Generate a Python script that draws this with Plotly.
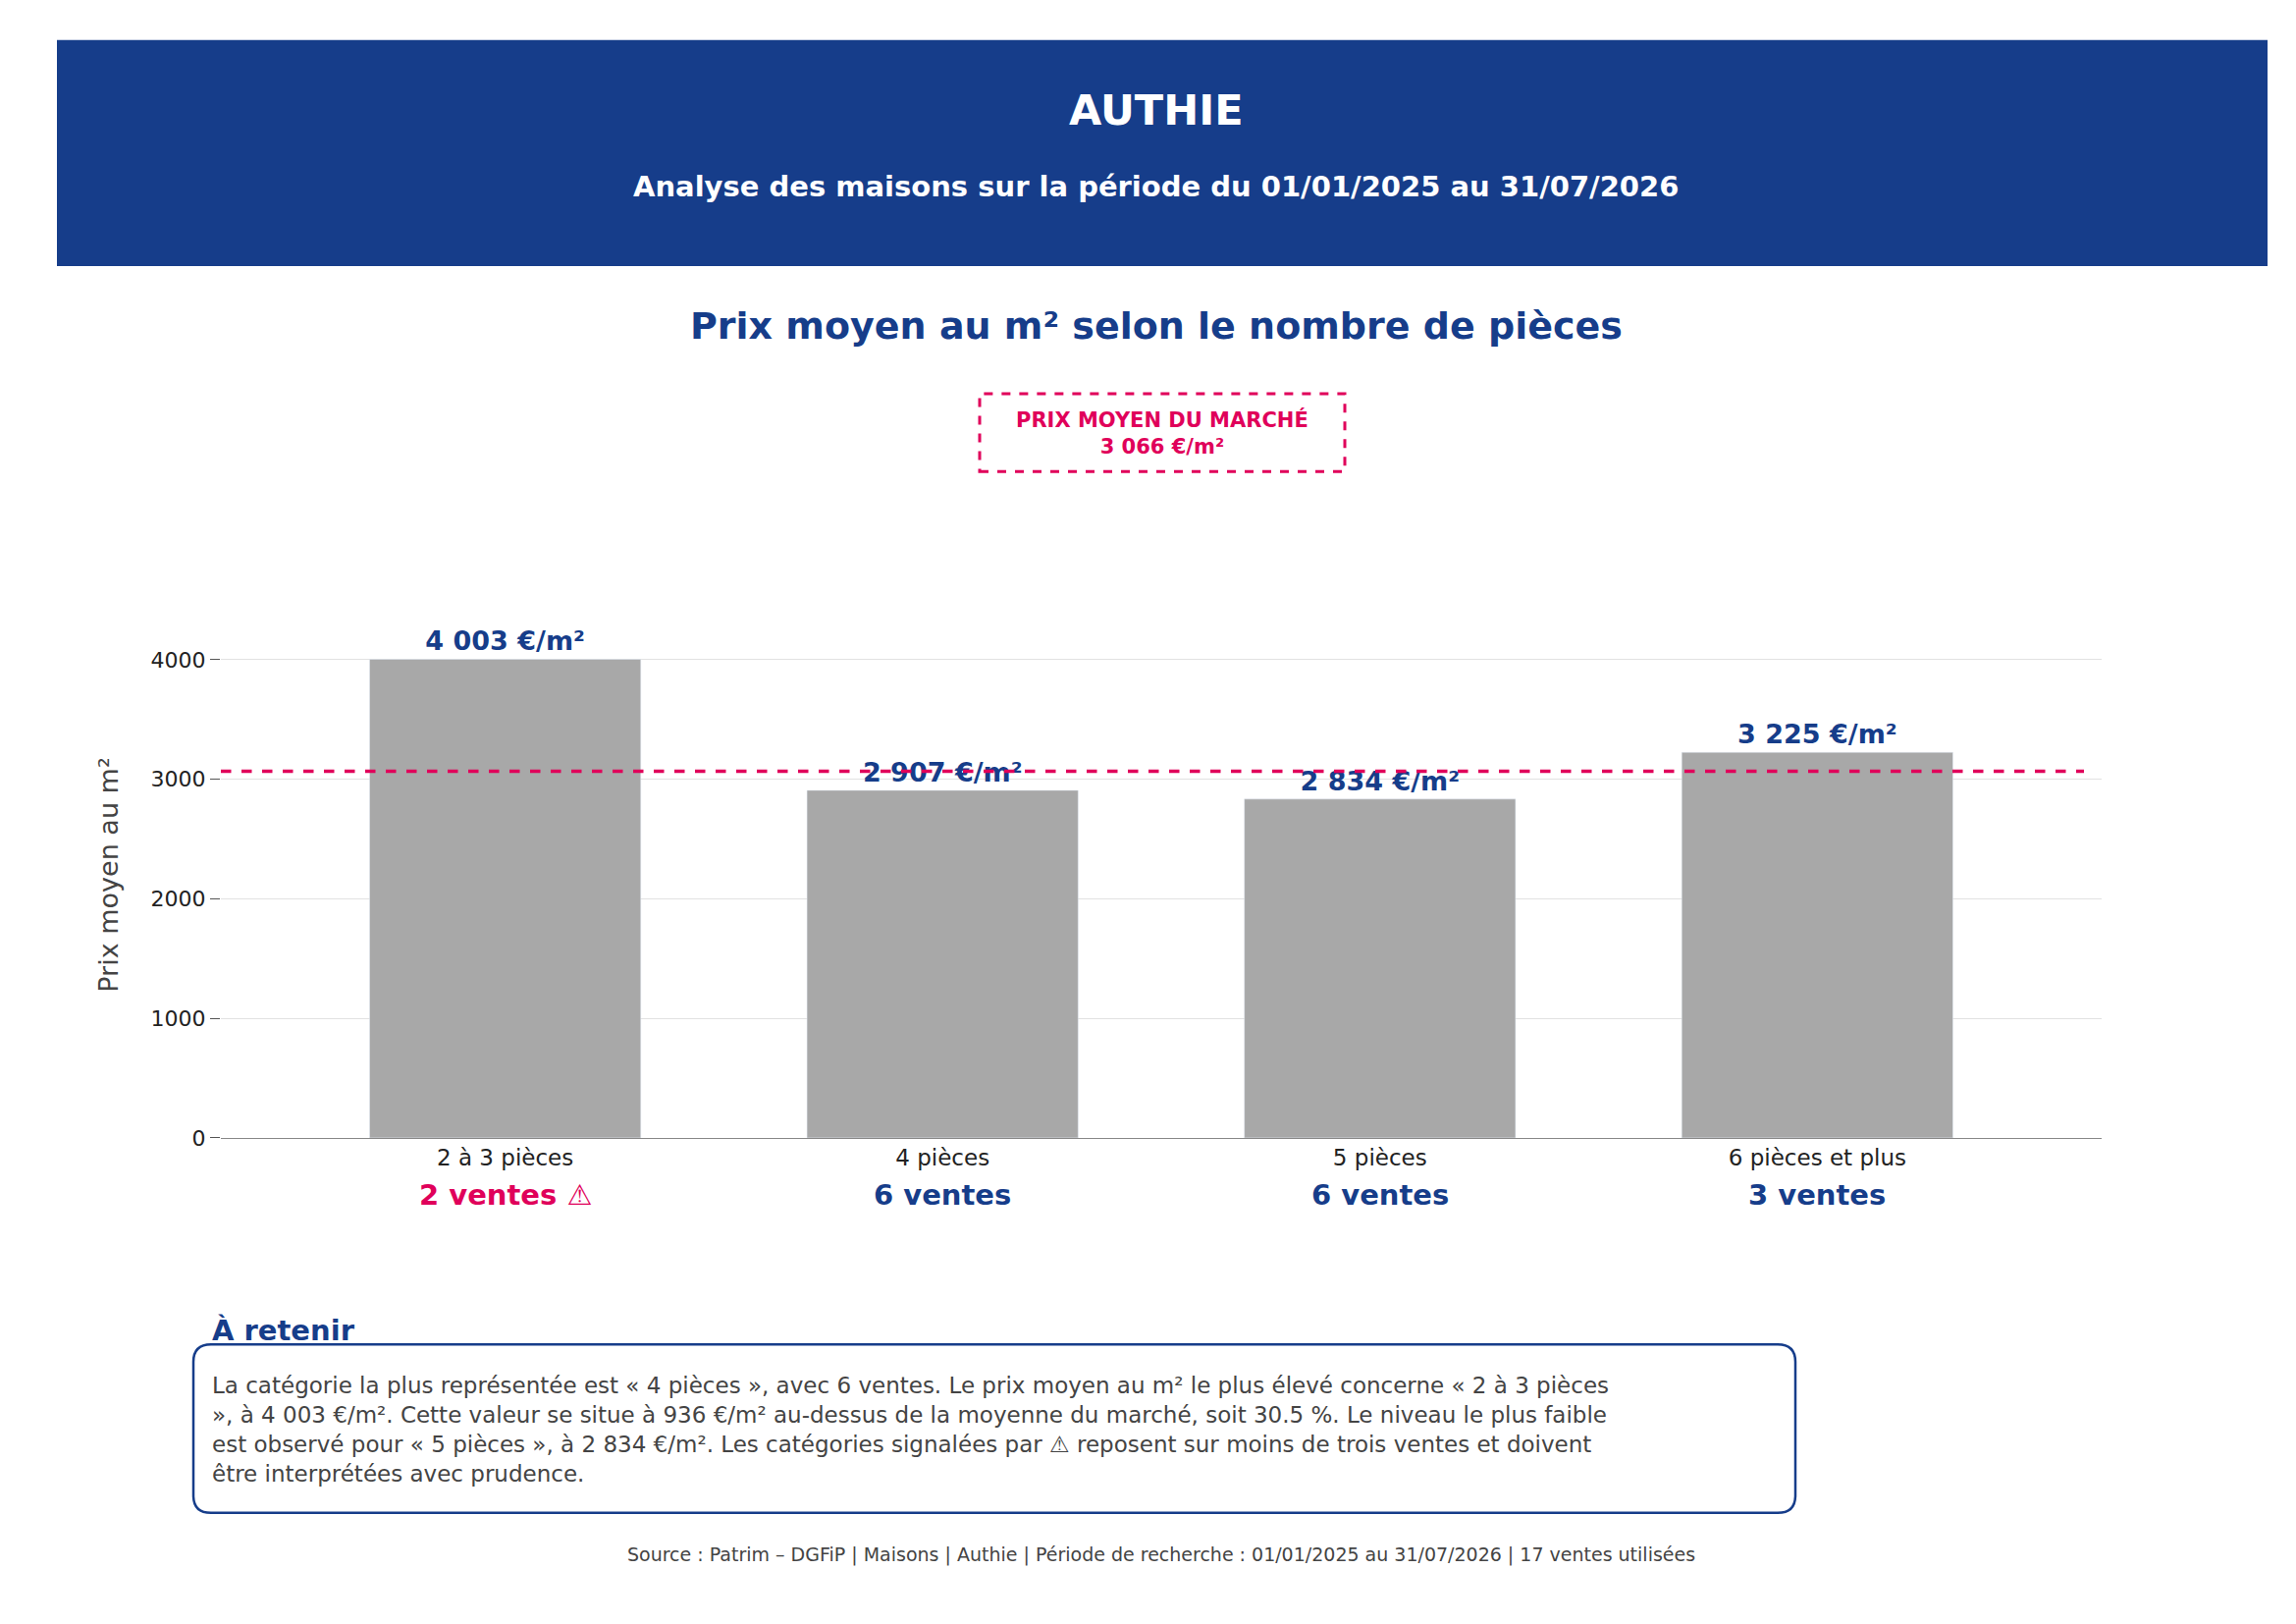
import plotly.graph_objects as go

categories = ["2 à 3 pièces", "4 pièces", "5 pièces", "6 pièces et plus"]
prices = [4003, 2907, 2834, 3225]
ventes = [2, 6, 6, 3]
market = 3066
W, H = 2339, 1654
BLUE = "#163d8a"; PINK = "#e0005a"; F = "DejaVu Sans"

def fmt(v):
    return f"{v:,}".replace(",", " ")

def px(x): return x / W
def py(y): return 1 - y / H

fig = go.Figure(go.Bar(
    x=categories, y=prices, width=0.62, marker_color="#a8a8a8",
    text=[f"<b>{fmt(v)} €/m²</b>" for v in prices], textposition="outside",
    textfont=dict(family=F, size=27, color=BLUE), cliponaxis=False))

fig.update_layout(
    width=W, height=H, margin=dict(l=0, r=0, t=0, b=0),
    plot_bgcolor="white", paper_bgcolor="white", showlegend=False,
    font=dict(family=F),
    xaxis=dict(domain=[px(217), px(2133)], tickfont=dict(size=23, color="#222"),
               showline=True, linecolor="#888", ticks="", range=[-0.65, 3.65]),
    yaxis=dict(domain=[py(1160), py(620)], range=[0, 4400], tickvals=[0, 1000, 2000, 3000, 4000],
               showgrid=True, gridcolor="#e2e2e2", zeroline=False, ticks="outside", ticklen=10,
               tickcolor="#555", tickfont=dict(size=22, color="#222"),
               title=dict(text="Prix moyen au m²", font=dict(size=27, color="#444"), standoff=25)),
)

shapes = [
    dict(type="rect", xref="paper", yref="paper", x0=px(50), x1=px(2302), y0=py(265), y1=py(33),
         fillcolor=BLUE, line_width=0, layer="below"),
    dict(type="rect", xref="paper", yref="paper", x0=px(990), x1=px(1362), y0=py(476), y1=py(396),
         fillcolor="white", line=dict(color=PINK, width=3, dash="dash")),
    dict(type="line", xref="paper", yref="y", x0=px(217), x1=px(2115), y0=market, y1=market,
         line=dict(color=PINK, width=3.5, dash="dash")),
]
x0, x1, y0, y1, r = px(189), px(1821), py(1545), py(1372), 18
rx, ry = r / W, r / H
shapes.append(dict(type="path", xref="paper", yref="paper", line=dict(color=BLUE, width=2.5),
    path=(f"M {x0+rx},{y1} L {x1-rx},{y1} Q {x1},{y1} {x1},{y1-ry} L {x1},{y0+ry} "
          f"Q {x1},{y0} {x1-rx},{y0} L {x0+rx},{y0} Q {x0},{y0} {x0},{y0+ry} "
          f"L {x0},{y1-ry} Q {x0},{y1} {x0+rx},{y1} Z")))
fig.update_layout(shapes=shapes)

ann = [
    dict(text="<b>AUTHIE</b>", x=0.5, y=py(105), size=43, color="white"),
    dict(text="<b>Analyse des maisons sur la période du 01/01/2025 au 31/07/2026</b>", x=0.5, y=py(183), size=29, color="white"),
    dict(text="<b>Prix moyen au m² selon le nombre de pièces</b>", x=0.5, y=py(327), size=38, color=BLUE),
    dict(text=f"<b>PRIX MOYEN DU MARCHÉ<br>{fmt(market)} €/m²</b>", x=px(1176), y=py(436), size=21, color=PINK),
    dict(text="<b>À retenir</b>", x=px(206), y=py(1358), size=29, color=BLUE, xanchor="left"),
    dict(text=("La catégorie la plus représentée est « 4 pièces », avec 6 ventes. Le prix moyen au m² le plus élevé concerne « 2 à 3 pièces<br>"
               "», à 4 003 €/m². Cette valeur se situe à 936 €/m² au-dessus de la moyenne du marché, soit 30.5 %. Le niveau le plus faible<br>"
               "est observé pour « 5 pièces », à 2 834 €/m². Les catégories signalées par ⚠ reposent sur moins de trois ventes et doivent<br>"
               "être interprétées avec prudence."),
         x=px(206), y=py(1459), size=23, color="#444", xanchor="left", align="left"),
    dict(text="Source : Patrim – DGFiP | Maisons | Authie | Période de recherche : 01/01/2025 au 31/07/2026 | 17 ventes utilisées",
         x=px(1175), y=py(1588), size=19, color="#444"),
]
annotations = [dict(text=a["text"], x=a["x"], y=a["y"], xref="paper", yref="paper", showarrow=False,
                    xanchor=a.get("xanchor", "center"), yanchor="middle", align=a.get("align", "center"),
                    font=dict(family=F, size=a["size"], color=a["color"])) for a in ann]
for c, v in zip(categories, ventes):
    warn = v < 3
    annotations.append(dict(text=f"<b>{v} ventes{' ⚠' if warn else ''}</b>", x=c, xref="x", y=py(1238), yref="paper",
                            showarrow=False, font=dict(family=F, size=29, color=PINK if warn else BLUE)))
fig.update_layout(annotations=annotations)
fig.write_html("out.html")
